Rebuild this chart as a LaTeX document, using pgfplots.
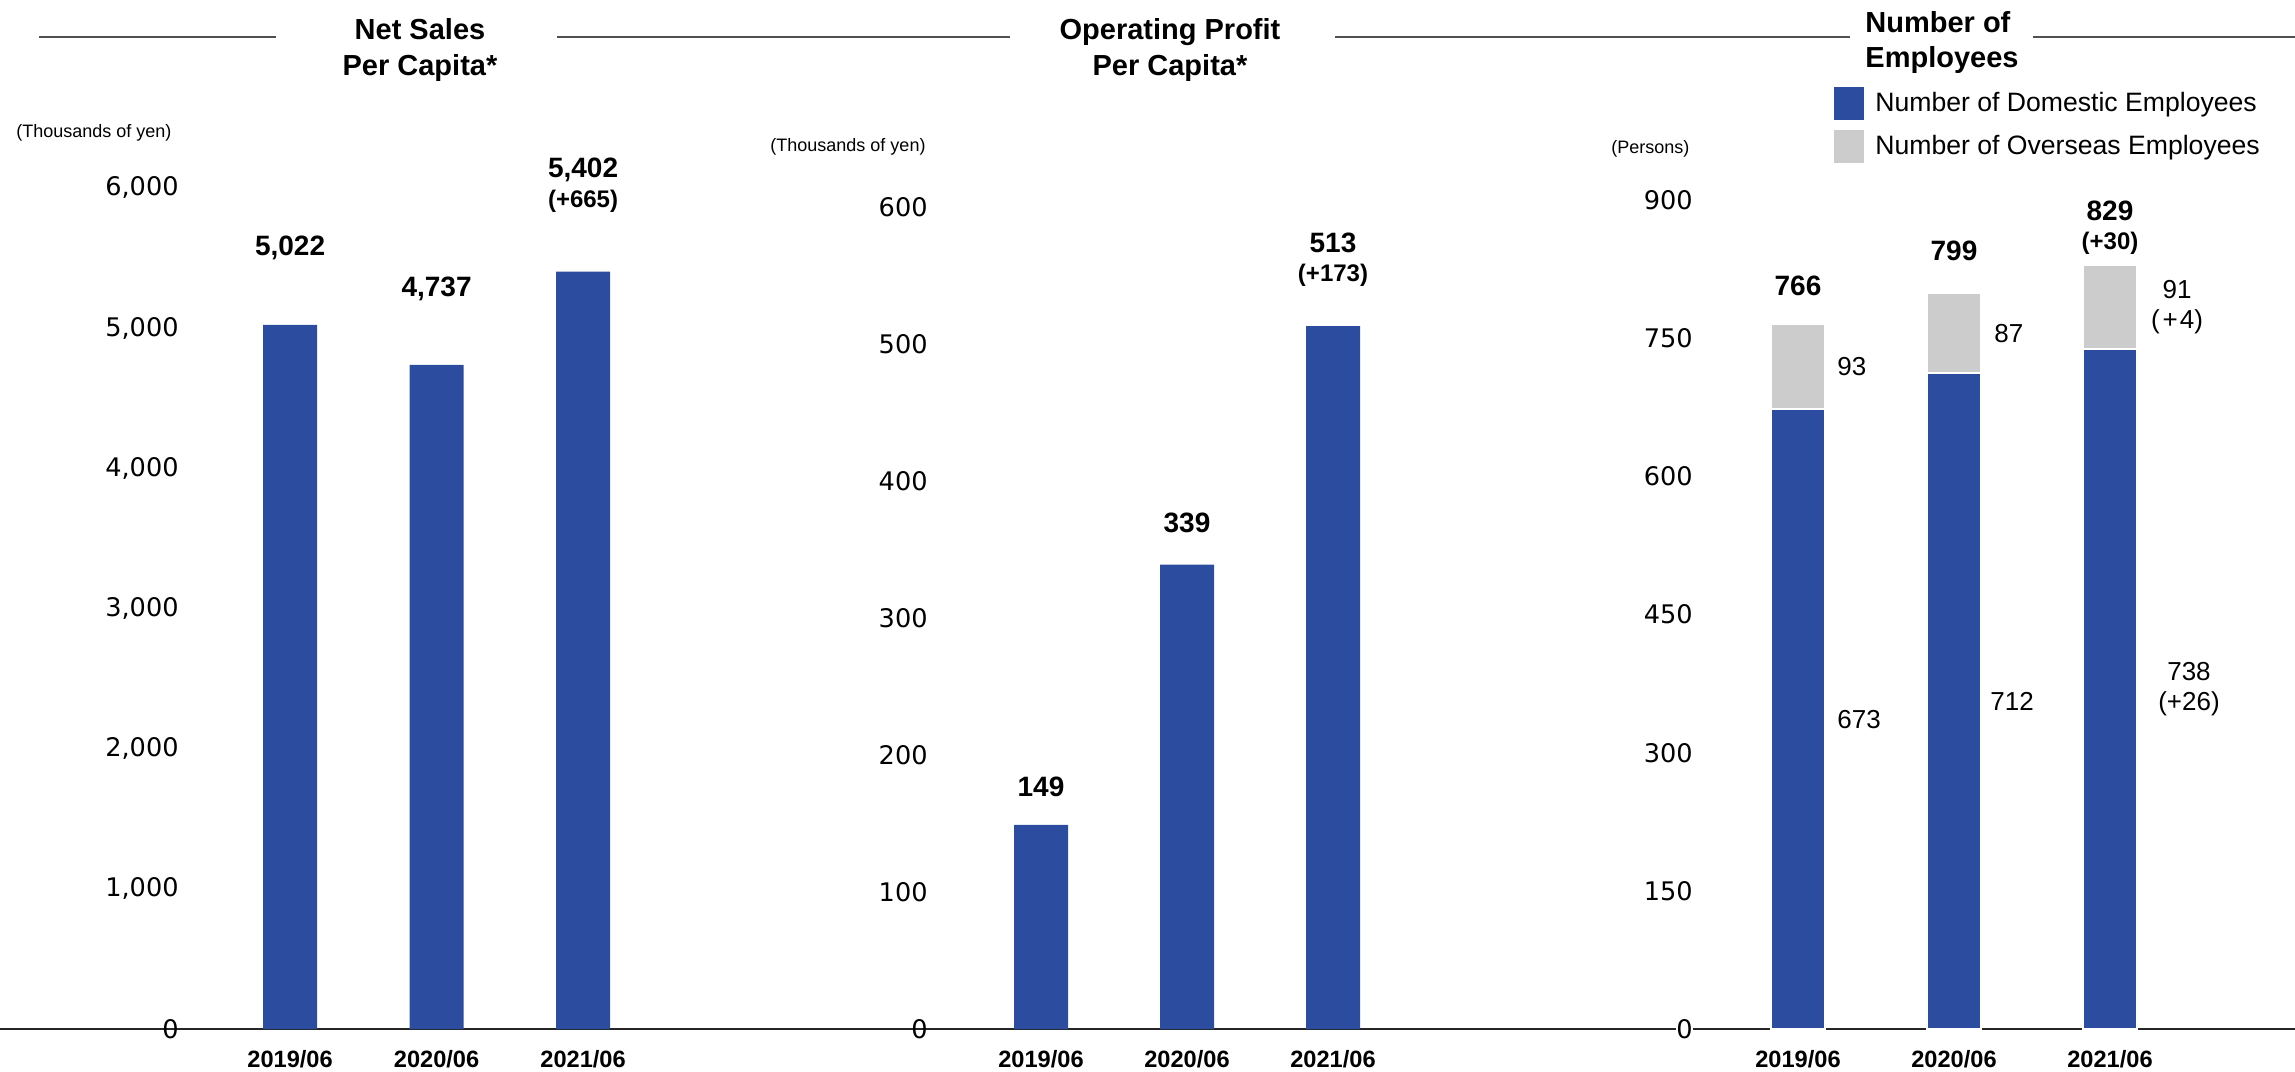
\documentclass[border=0pt]{standalone}
\usepackage{fontspec}
\setmainfont{Liberation Sans}
\newfontfamily\dejavu{DejaVu Sans}
\usepackage{pgfplots}
\pgfplotsset{compat=1.18}
\definecolor{barblue}{RGB}{44,76,160}
\definecolor{bargray}{RGB}{204,204,204}
\definecolor{rulegray}{RGB}{80,80,80}
\newcommand\valfont{\bfseries\fontsize{14}{16}\selectfont}
\newcommand\diffont{\bfseries\fontsize{12}{14}\selectfont}
\newcommand\segfont{\fontsize{13}{15}\selectfont}
\newcommand\titlefont{\bfseries\fontsize{14.5}{17}\selectfont}
\newcommand\unitfont{\fontsize{9}{10}\selectfont}

\pgfplotsset{
  mystyle/.style={
    clip=false,
    anchor=south west,
    axis line style={draw=none},
    tick style={draw=none},
    major tick length=0pt,
    xtick={0,1,2},
    xticklabels={2019/06,2020/06,2021/06},
    xticklabel style={font=\bfseries\fontsize{11.8}{12}\selectfont, anchor=north, inner sep=0pt, yshift=-10.5pt},
    yticklabel style={font=\dejavu\fontsize{12.8}{13}\selectfont, anchor=east, inner sep=0pt},
    /pgf/number format/assume math mode=true,
    /pgf/number format/1000 sep={,},
    scaled y ticks=false,
    ymin=0,
  }
}

\begin{document}
\begin{tikzpicture}
\path[use as bounding box] (0pt,0pt) rectangle (1147.5pt,535.5pt);
% baseline
\draw[line width=1pt, black!85] (0pt,21pt) -- (1147.5pt,21pt);
% title rules
\draw[line width=1pt, rulegray] (19.5pt,517pt) -- (138pt,517pt);
\draw[line width=1pt, rulegray] (278.5pt,517pt) -- (505pt,517pt);
\draw[line width=1pt, rulegray] (667.5pt,517pt) -- (925pt,517pt);
\draw[line width=1pt, rulegray] (1016.5pt,517pt) -- (1147.5pt,517pt);
% titles
\node[font=\titlefont, anchor=base] at (210pt,515.8pt) {Net Sales};
\node[font=\titlefont, anchor=base] at (210pt,497.8pt) {Per Capita*};
\node[font=\titlefont, anchor=base] at (585pt,515.8pt) {Operating Profit};
\node[font=\titlefont, anchor=base] at (585pt,497.8pt) {Per Capita*};
\node[font=\titlefont, anchor=base west, inner sep=0pt] at (932.5pt,519.3pt) {Number of};
\node[font=\titlefont, anchor=base west, inner sep=0pt] at (932.5pt,501.8pt) {Employees};

% Chart 1: Net sales per capita
\begin{axis}[mystyle,
  at={(89.5pt,21pt)},
  x=73.25pt, y=0.0701pt,
  xmin=-0.758, xmax=2.76, ymax=6000,
  ytick={0,1000,2000,3000,4000,5000,6000},
  ybar, bar width=27pt,
  ylabel={(Thousands of yen)},
  every axis y label/.style={at={(axis description cs:-0.3163,1.0652)}, anchor=west, font=\unitfont, inner sep=0pt},
]
\addplot[fill=barblue, draw=none] coordinates {(0,5022) (1,4737) (2,5402)};
\node[font=\valfont, yshift=38.5pt] at (axis cs:0,5022) {5,022};
\node[font=\valfont, yshift=38pt] at (axis cs:1,4737) {4,737};
\node[font=\valfont, yshift=51pt] at (axis cs:2,5402) {5,402};
\node[font=\diffont, yshift=35pt] at (axis cs:2,5402) {(+665)};
\end{axis}

% Chart 2: Operating profit per capita
\begin{axis}[mystyle,
  at={(464pt,21pt)},
  x=73pt, y=0.685pt,
  xmin=-0.774, xmax=2.75, ymax=600,
  ytick={0,100,200,300,400,500,600},
  ybar, bar width=27pt,
  ylabel={(Thousands of yen)},
  every axis y label/.style={at={(axis description cs:-0.307,1.073)}, anchor=west, font=\unitfont, inner sep=0pt},
]
\addplot[fill=barblue, draw=none] coordinates {(0,149) (1,339) (2,513)};
\node[font=\valfont, yshift=19pt] at (axis cs:0,149) {149};
\node[font=\valfont, yshift=21pt] at (axis cs:1,339) {339};
\node[font=\valfont, yshift=41.5pt] at (axis cs:2,513) {513};
\node[font=\diffont, yshift=25.5pt] at (axis cs:2,513) {(+173)};
\end{axis}

% Chart 3: Number of employees
\begin{axis}[mystyle,
  at={(846.5pt,21pt)},
  x=78pt, y=0.4605pt,
  xmin=-0.673, xmax=2.6, ymax=900,
  ytick={0,150,300,450,600,750,900},
  yticklabel style={fill=white},
  ybar stacked, bar width=27pt,
  ylabel={(Persons)},
  every axis y label/.style={at={(axis description cs:-0.1606,1.0617)}, anchor=west, font=\unitfont, inner sep=0pt},
  legend image code/.code={\fill[#1,draw=none] (0pt,-8.25pt) rectangle (15pt,8.25pt);},
  legend style={at={(axis description cs:0.2761,1.1372)}, anchor=north west, draw=none, fill=none,
    font=\fontsize{13.3}{14}\selectfont, row sep=5pt, inner sep=0pt,
    nodes={inner sep=1pt}},
  legend cell align=left,
]
\addplot[fill=barblue, draw=white, line width=1pt] coordinates {(0,673) (1,712) (2,738)};
\addlegendentry{\hspace{4.5pt}Number of Domestic Employees}
\addplot[fill=bargray, draw=white, line width=1pt] coordinates {(0,93) (1,87) (2,91)};
\addlegendentry{\hspace{4.5pt}Number of Overseas Employees}
\node[font=\valfont, yshift=19pt] at (axis cs:0,766) {766};
\node[font=\valfont, yshift=21pt] at (axis cs:1,799) {799};
\node[font=\valfont, yshift=27.5pt] at (axis cs:2,829) {829};
\node[font=\diffont, yshift=11pt] at (axis cs:2,829) {(+30)};
\node[font=\segfont, anchor=west, inner sep=0pt, xshift=19.5pt] at (axis cs:0,719.5) {93};
\node[font=\segfont, anchor=west, inner sep=0pt, xshift=19.5pt] at (axis cs:0,336.5) {673};
\node[font=\segfont, anchor=west, inner sep=0pt, xshift=20pt] at (axis cs:1,755.5) {87};
\node[font=\segfont, anchor=west, inner sep=0pt, xshift=18pt] at (axis cs:1,356) {712};
\node[font=\segfont, align=center, inner sep=0pt, xshift=33.5pt] at (axis cs:2,783.5) {\fontsize{13}{12.5}\selectfont 91\\(\kern1.5pt+\kern1pt4)};
\node[font=\segfont, align=center, inner sep=0pt, xshift=39.5pt] at (axis cs:2,369) {\fontsize{13}{15}\selectfont 738\\(+26)};
\end{axis}
\end{tikzpicture}
\end{document}
